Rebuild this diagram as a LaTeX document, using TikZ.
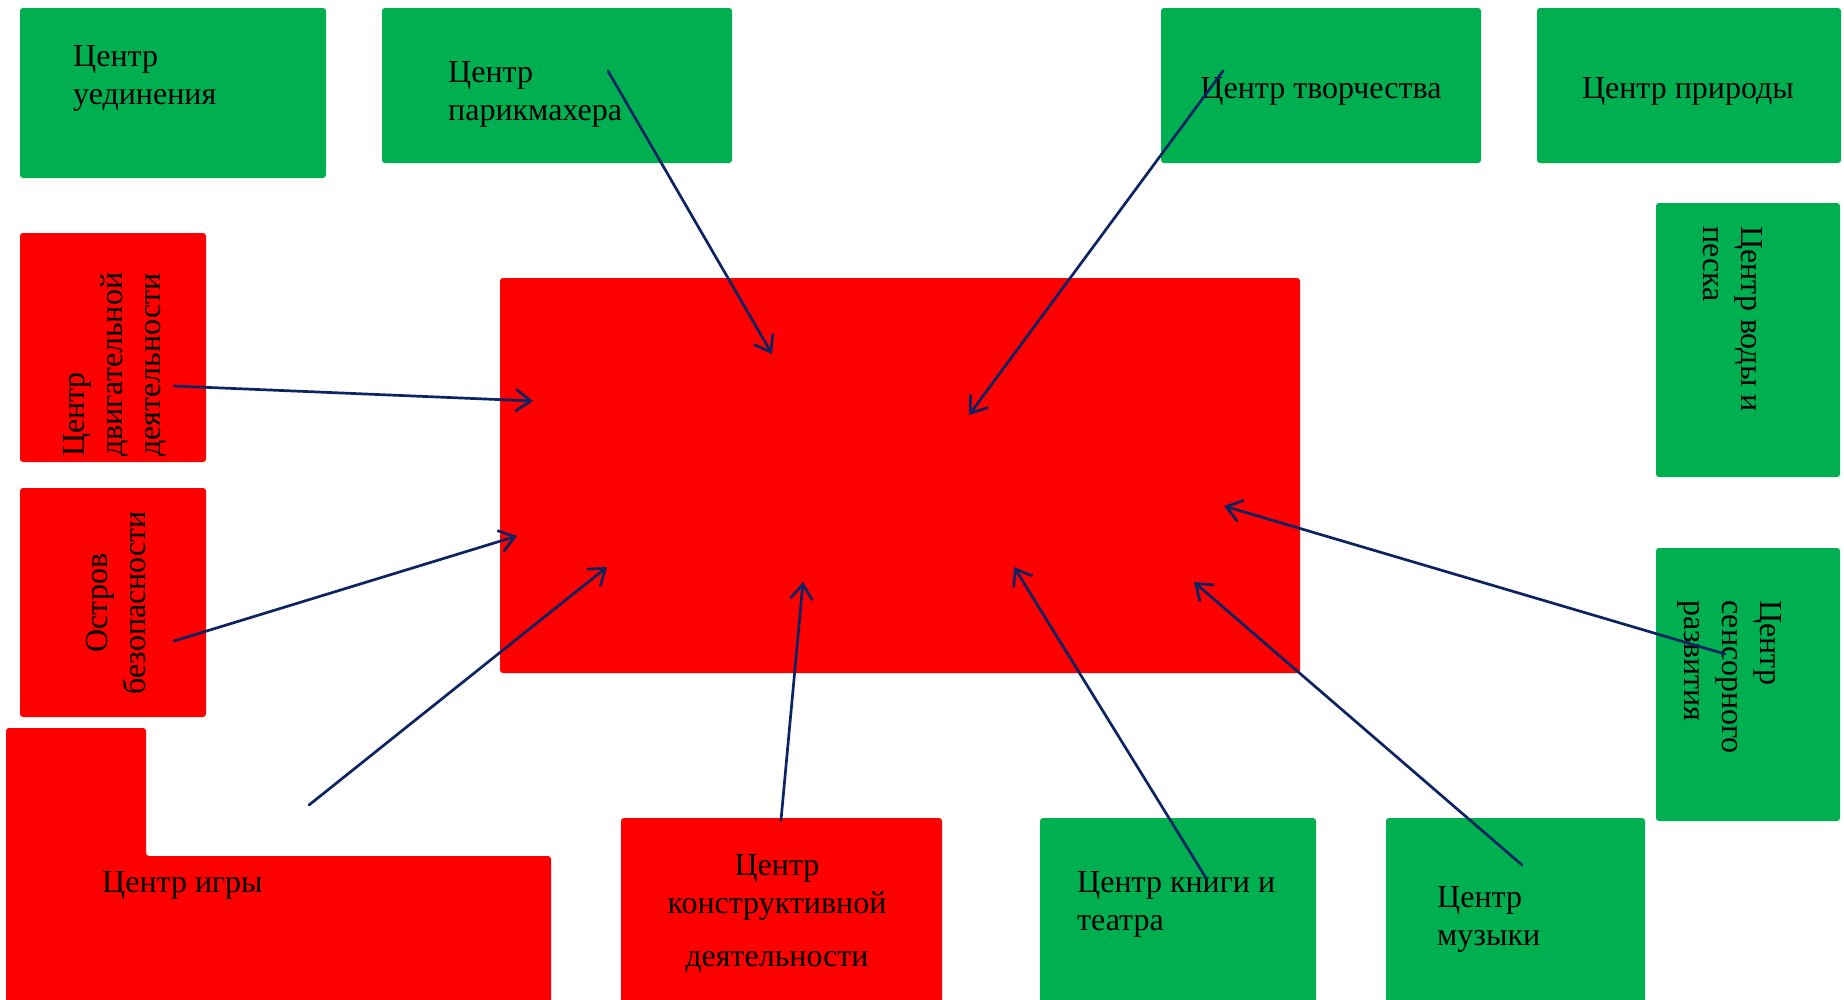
\documentclass[tikz,border=0pt]{standalone}
\usepackage{fontspec}
\setmainfont{Liberation Serif}
\usetikzlibrary{arrows.meta}
\definecolor{grn}{HTML}{00B050}
\definecolor{rd}{HTML}{FF0000}
\definecolor{navy}{HTML}{0C2461}
\begin{document}
\begin{tikzpicture}[x=1pt,y=-1pt,
 box/.style={rectangle,rounded corners=3pt,inner sep=0pt,outer sep=0pt,anchor=north west,draw=none},
 gbox/.style={box,fill=grn},
 rbox/.style={box,fill=rd},
 lbl/.style={font=\fontsize{32}{38}\selectfont,inner sep=0pt,text=black},
 arr/.style={draw=navy,line width=2.7pt,line cap=round,-{Straight Barb[length=15pt,width=22pt]}}
]
\clip (0,0) rectangle (1844,999);
\fill[white] (0,0) rectangle (1844,999);

% boxes
\node[rbox,minimum width=800pt,minimum height=395pt] (center) at (500,278) {};
\node[gbox,minimum width=306pt,minimum height=170pt] (uedin) at (20,8) {};
\node[gbox,minimum width=350pt,minimum height=155pt] (parik) at (382,8) {};
\node[gbox,minimum width=320pt,minimum height=155pt] (tvor) at (1161,8) {};
\node[gbox,minimum width=304pt,minimum height=155pt] (prir) at (1537,8) {};
\node[gbox,minimum width=184pt,minimum height=274pt] (vody) at (1656,203) {};
\node[gbox,minimum width=184pt,minimum height=273pt] (sens) at (1656,548) {};
\node[gbox,minimum width=259pt,minimum height=200pt] (muz) at (1386,818) {};
\node[gbox,minimum width=276pt,minimum height=200pt] (knig) at (1040,818) {};
\node[rbox,minimum width=321pt,minimum height=200pt] (konstr) at (621,818) {};
\node[rbox,minimum width=186pt,minimum height=229pt] (motor) at (20,233) {};
\node[rbox,minimum width=186pt,minimum height=229pt] (ostrov) at (20,488) {};
\fill[rd,rounded corners=3pt] (6,1020) -- (6,728) -- (146,728) -- (146,856) -- (551,856) -- (551,1020) -- cycle;
\coordinate (igry) at (280,900);

% labels (anchored at the baseline of the last line)
\node[lbl,anchor=base west,align=left] (t1) at (73,104) {Центр\\уединения};
\node[lbl,anchor=base west,align=left] (t2) at (448,120) {Центр\\парикмахера};
\node[lbl,anchor=base] (t3) at (1321,98) {Центр творчества};
\node[lbl,anchor=base] (t4) at (1688,98) {Центр природы};
\node[lbl,anchor=base west,align=left,rotate=-90] (t5) at (1703,226) {Центр воды и\\песка};
\node[lbl,anchor=base west,align=left,rotate=-90] (t6) at (1684,600) {Центр\\сенсорного\\развития};
\node[lbl,anchor=base west,align=left,rotate=90] (t7) at (160,457) {Центр\\двигательной\\деятельности};
\node[lbl,anchor=base,align=center,rotate=90] (t8) at (145,603) {Остров\\безопасности};
\node[lbl,anchor=base west] (t9) at (102,892) {Центр игры};
\node[lbl,anchor=base,align=center] (t10) at (777,966) {Центр\\конструктивной\\[15pt]деятельности};
\node[lbl,anchor=base west,align=left] (t11) at (1077,930) {Центр книги и\\театра};
\node[lbl,anchor=base west,align=left] (t12) at (1437,945) {Центр\\музыки};

% arrow end points
\coordinate (s1) at (608,71);   \coordinate (e1) at (772,354);
\coordinate (s2) at (1223,71);  \coordinate (e2) at (969,415);
\coordinate (s3) at (174,386);  \coordinate (e3) at (533,401);
\coordinate (s4) at (174,641);  \coordinate (e4) at (517,536);
\coordinate (s5) at (309,805);  \coordinate (e5) at (607,567);
\coordinate (s6) at (781,820);  \coordinate (e6) at (803,582);
\coordinate (s7) at (1206,878); \coordinate (e7) at (1014,567);
\coordinate (s8) at (1522,865); \coordinate (e8) at (1194,582);
\coordinate (s9) at (1725,654); \coordinate (e9) at (1224,506);

\foreach \i in {1,...,9} \draw[arr] (s\i) -- (e\i);
\end{tikzpicture}
\end{document}
